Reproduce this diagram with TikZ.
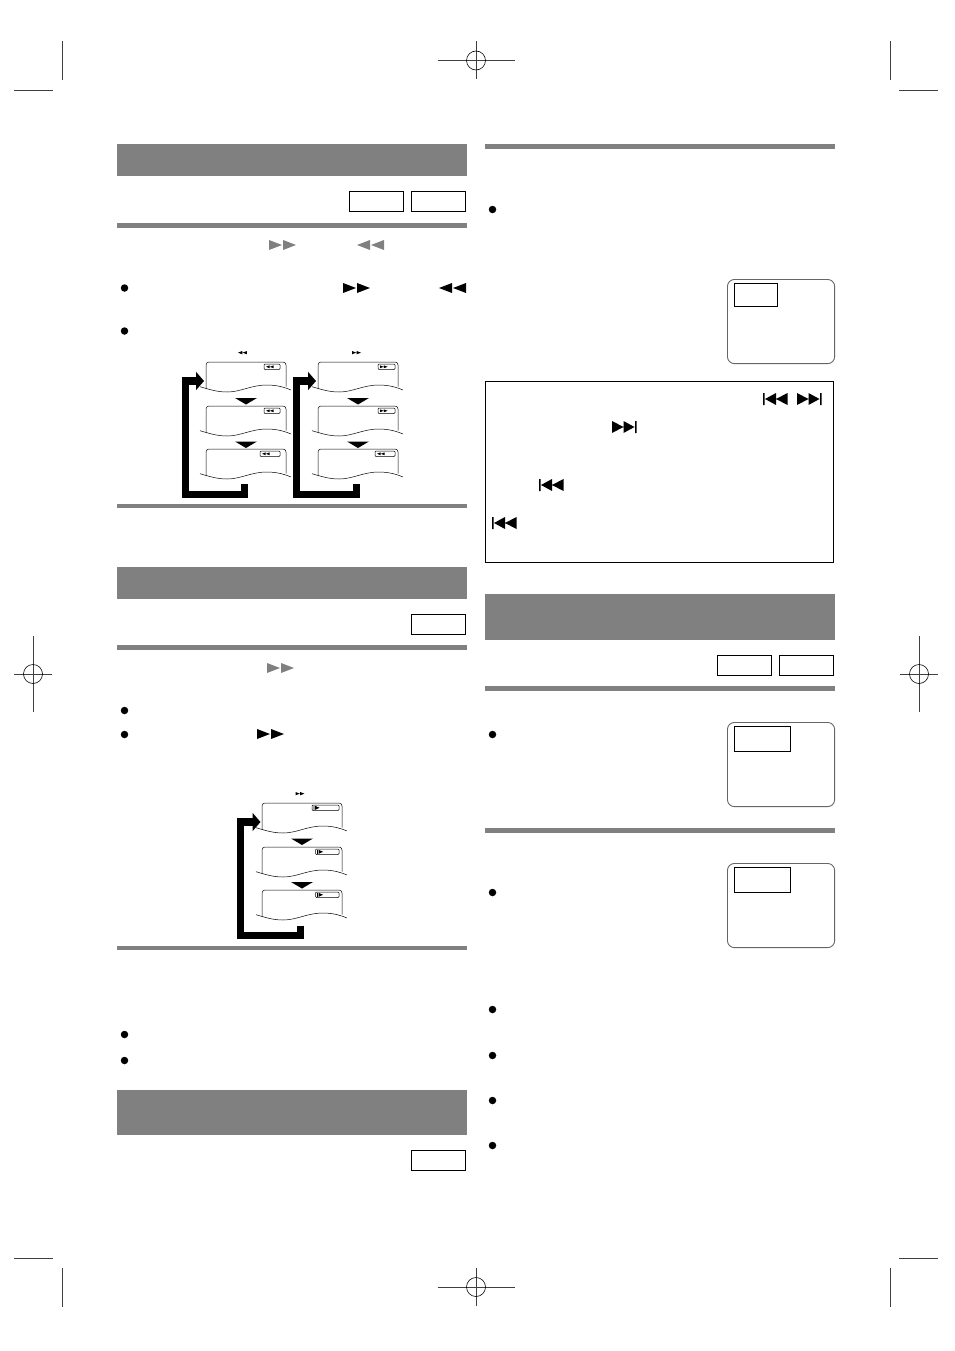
\documentclass[tikz,border=0pt]{standalone}
\usepackage{xcolor}
\usetikzlibrary{arrows.meta}
\definecolor{bar-gray}{HTML}{808080}
\tikzset{
    header-bar/.style = {fill=bar-gray, rectangle, inner sep=0pt, anchor=north west, minimum width=350pt},
    thin-rule/.style = {fill=bar-gray, rectangle, inner sep=0pt, anchor=north west, minimum width=350pt, minimum height=#1},
    disc-badge/.style = {draw=black, line width=.8pt, rectangle, inner sep=0pt, anchor=north west, minimum width=54.2pt, minimum height=20.2pt},
    tv-screen/.style = {draw=black!60, line width=.9pt, rectangle, rounded corners=7pt, inner sep=0pt, anchor=north west, minimum width=107.2pt, minimum height=84.2pt},
    tv-label/.style = {draw=black, line width=.8pt, rectangle, inner sep=0pt, anchor=north west, minimum height=#1},
    bullet-dot/.style = {fill=black, circle, inner sep=0pt, minimum size=7.5pt},
    note-box/.style = {draw=black, line width=.9pt, rectangle, inner sep=0pt, anchor=north west, minimum width=348.2pt, minimum height=180.8pt},
    crop-line/.style = {draw=black!75, line width=.6pt},
    loop-arrow/.style = {draw=black, line width=7.3pt, -{Triangle[length=8pt,width=18pt]}},
    pics/glyph-ff/.style = {code={\fill (0,0) -- (13,5) -- (0,10) -- cycle (14,0) -- (27,5) -- (14,10) -- cycle;}},
    pics/glyph-rew/.style = {code={\fill (13,0) -- (0,5) -- (13,10) -- cycle (27,0) -- (14,5) -- (27,10) -- cycle;}},
    pics/glyph-next/.style = {code={\fill (0,0) -- (11.5,6) -- (0,12) -- cycle (11.5,0) -- (22.5,6) -- (11.5,12) -- cycle (23,0) rectangle (24.5,12);}},
    pics/glyph-prev/.style = {code={\fill (24.5,0) -- (13,6) -- (24.5,12) -- cycle (13,0) -- (2,6) -- (13,12) -- cycle (0,0) rectangle (1.5,12);}},
    pics/glyph-slow/.style = {code={\fill (0,0) rectangle (.8,4) (1.6,0) -- (6,2) -- (1.6,4) -- cycle;}},
    pics/drop-mark/.style = {code={\fill (0,0) -- (22,0) -- (11,6.5) -- cycle;}},
    pics/osd-panel/.style 2 args = {code={
        \draw[line width=.5pt, rounded corners=3pt] (0,26.5) -- (0,0) -- (80,0) -- (80,24.5);
        \draw[line width=.5pt] (-6,24.7) .. controls (5,28) and (12,30) .. (21,30) .. controls (35,30) and (45,23) .. (61,23) .. controls (70,23) and (78,25) .. (85,28);
        \draw[line width=.5pt, rounded corners=1pt] (#1,2) rectangle (#2,7.5);
    }},
    pics/crop-target/.style 2 args = {code={
        \draw[crop-line] (-#1,0) -- (#1,0) (0,-#2) -- (0,#2);
        \draw[crop-line, black] (0,0) circle (9.5);
    }},
}
\begin{document}
\begin{tikzpicture}[x=1pt, y=-1pt]
\useasboundingbox (0,0) rectangle (954,1351);

% printer marks
\foreach \cx/\cy in {476/60.5, 476/1287} \pic at (\cx,\cy) {crop-target={38.5}{19}};
\foreach \cx/\cy in {33/674, 919/674} \pic at (\cx,\cy) {crop-target={19}{38}};
\foreach \ly in {90.5, 1258} {
    \draw[crop-line] (14,\ly) -- (52.5,\ly);
    \draw[crop-line] (899,\ly) -- (938,\ly);
}
\foreach \lx in {62.5, 890.5} {
    \draw[crop-line] (\lx,41) -- (\lx,80);
    \draw[crop-line] (\lx,1268) -- (\lx,1307);
}

% grey bars
\node[header-bar, minimum height=32pt] (search-head) at (117,144) {};
\node[header-bar, minimum height=32pt] (slow-head) at (117,567) {};
\node[header-bar, minimum height=45pt] (repeat-head) at (117,1090) {};
\node[header-bar, minimum height=46pt] (zoom-head) at (485,594) {};
\foreach \rx/\ry/\rh [count=\n] in {117/223/5, 117/504/4, 117/645/5, 117/946/4, 485/144/5, 485/686/5, 485/828/5}
    \node[thin-rule=\rh pt] (rule-\n) at (\rx,\ry) {};

% disc badges
\foreach \bx/\by [count=\n] in {349/191, 411/191, 411/614, 411/1150, 717/655, 779/655}
    \node[disc-badge] (badge-\n) at (\bx,\by) {};

% bullets
\foreach \dx/\dy [count=\n] in {124.5/288, 124.5/331, 124.5/710.5, 124.5/734.5, 124.5/1034.5, 124.5/1060.5, 492.5/209.5, 492.5/734.5, 492.5/892.5, 492.5/1009.5, 492.5/1055.5, 492.5/1100.5, 492.5/1145.5}
    \node[bullet-dot] (dot-\n) at (\dx,\dy) {};

% tv screens
\node[tv-screen] (tv-a) at (727,279) {};
\node[tv-label=23.2pt, minimum width=43.2pt] (tv-a-label) at (734,283) {};
\node[tv-screen] (tv-b) at (727,722) {};
\node[tv-label=25.2pt, minimum width=56.2pt] (tv-b-label) at (734,726) {};
\node[tv-screen] (tv-c) at (727,863) {};
\node[tv-label=25.2pt, minimum width=56.2pt] (tv-c-label) at (734,867) {};

% note box
\node[note-box] (note) at (485,381) {};

% button glyphs
\pic[fill=bar-gray] at (269,240) {glyph-ff};
\pic[fill=bar-gray] at (357,240) {glyph-rew};
\pic[fill=bar-gray] at (267,663) {glyph-ff};
\pic at (343,283) {glyph-ff};
\pic at (439,283) {glyph-rew};
\pic at (257,729) {glyph-ff};
\pic at (763,393) {glyph-prev};
\pic at (797,393) {glyph-next};
\pic at (612,421) {glyph-next};
\pic at (539,479) {glyph-prev};
\pic at (492,517) {glyph-prev};

% screen strips, reverse search
\pic[scale=.33] at (238,351) {glyph-rew};
\foreach \py/\bl/\br in {362/58/74, 406/58/74, 449/54/74} {
    \pic at (206,\py) {osd-panel={\bl}{\br}};
    \pic[scale=.28] at (208+\bl,\py+3.4) {glyph-rew};
}
\foreach \ty in {398, 441.5} \pic at (235,\ty) {drop-mark};
\coordinate (rew-tail) at (244.7,484.3);
\coordinate (rew-tip) at (204,381);
\draw[loop-arrow] (rew-tail) |- (185.3,494.6) |- (rew-tip);

% screen strips, forward search
\pic[scale=.33] at (352,351) {glyph-ff};
\foreach \py/\bl/\br/\gname in {362/60/77/glyph-ff, 406/60/77/glyph-ff, 449/57/77/glyph-rew} {
    \pic at (318,\py) {osd-panel={\bl}{\br}};
    \pic[scale=.28] at (320+\bl,\py+3.4) {\gname};
}
\foreach \ty in {398, 441.5} \pic at (347,\ty) {drop-mark};
\coordinate (ff-tail) at (356.7,484.3);
\coordinate (ff-tip) at (316,381);
\draw[loop-arrow] (ff-tail) |- (296.5,494.6) |- (ff-tip);

% screen strips, slow motion
\pic[scale=.33] at (295.5,792) {glyph-ff};
\foreach \py/\bl in {803/50, 847/53.5, 890/53.5} {
    \pic at (262,\py) {osd-panel={\bl}{77}};
    \pic at (263.5+\bl,\py+2.8) {glyph-slow};
}
\foreach \ty in {838.5, 882} \pic at (291,\ty) {drop-mark};
\coordinate (slow-tail) at (300.4,925.7);
\coordinate (slow-tip) at (260.5,822);
\draw[loop-arrow] (slow-tail) |- (240.4,935.3) |- (slow-tip);
\end{tikzpicture}
\end{document}
